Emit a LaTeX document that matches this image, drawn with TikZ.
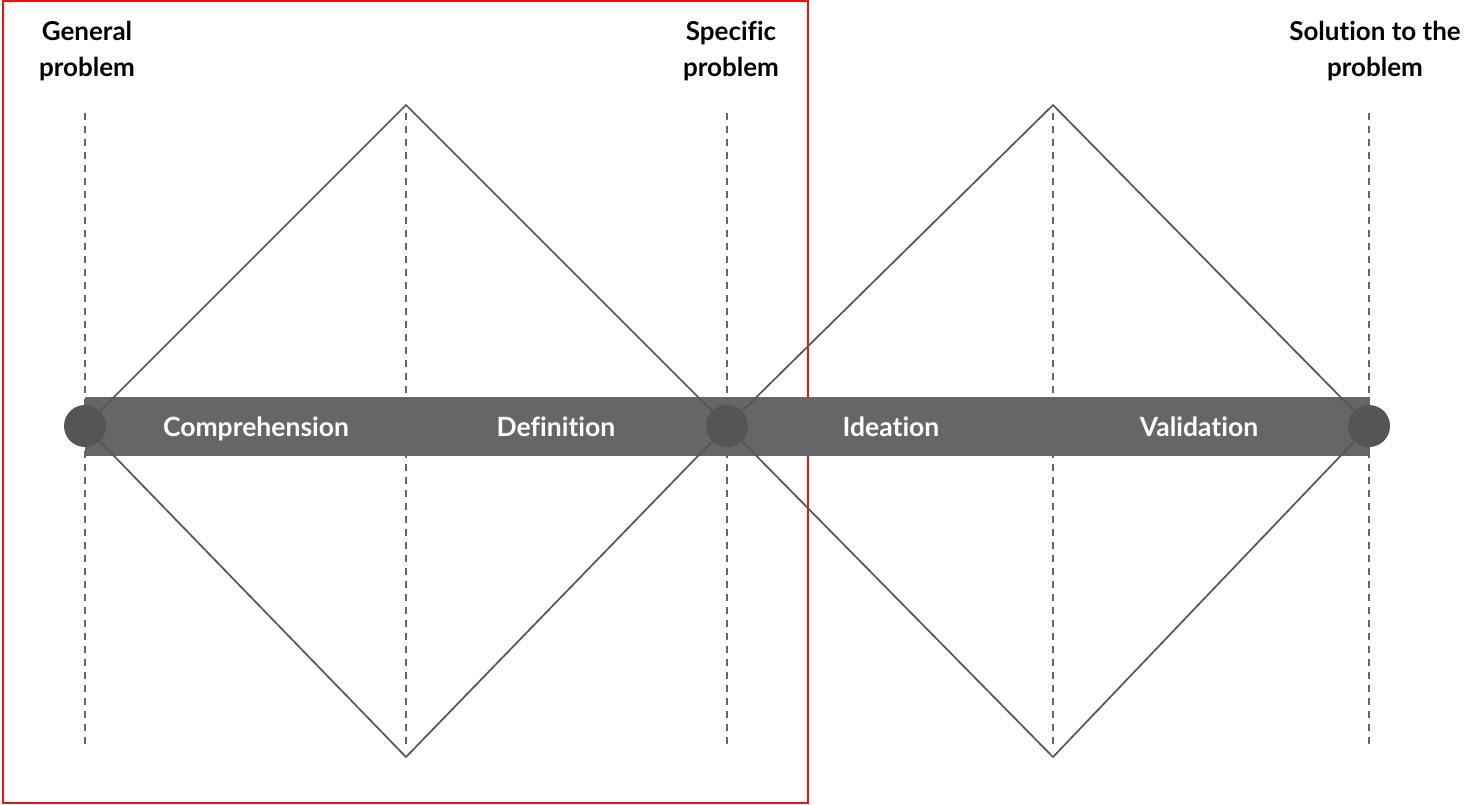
\documentclass[tikz,border=0pt]{standalone}
\usepackage{fontspec}
\setmainfont{Lato}[Ligatures={NoCommon}]
\usepackage{tikz}
\usetikzlibrary{positioning,calc}
\definecolor{bar}{HTML}{666666}
\definecolor{dot}{HTML}{555555}
\definecolor{edge}{HTML}{555555}
\definecolor{frame}{HTML}{F01010}

\begin{document}
\begin{tikzpicture}[x=1pt,y=-1pt,font=\fontsize{26}{36}\selectfont\bfseries,
  phase/.style={text=white,anchor=base,font=\fontsize{26.5}{30}\selectfont\bfseries},
  stage/.style={align=center,anchor=north,inner sep=0pt}]
\useasboundingbox (0,0) rectangle (1464,804);
% red frame round the first diamond
\draw[frame,line width=1.8pt] (3,1) rectangle (808,803);
% corner points of the two diamonds
\coordinate (gen) at (85,426);
\coordinate (spec) at (727,426);
\coordinate (sol) at (1369,426);
\coordinate (top1) at (406,105);
\coordinate (bot1) at (406,757);
\coordinate (top2) at (1053,105);
\coordinate (bot2) at (1053,757);
\draw[bar,fill=bar] (85,397) rectangle (1369,455);
\foreach \x in {85,406,727,1053,1369} {\draw[bar,line width=1.4pt,dash pattern=on 7pt off 6pt] (\x,113)--(\x,746);}
\draw[edge,line width=1.7pt] (gen)--(top1)--(spec)--(bot1)--cycle;
\draw[edge,line width=1.7pt] (spec)--(top2)--(sol)--(bot2)--cycle;
\foreach \p in {gen,spec,sol} {\fill[dot] (\p) circle (21);}
\node[phase] (comp) at (256,436) {Comprehension};
\node[phase] (defi) at (556,436) {Definition};
\node[phase] (idea) at (891,436) {Ideation};
\node[phase] (vali) at (1199,436) {Validation};
\node[stage] (lgen) at (87,21) {General\\problem};
\node[stage] (lspec) at (731,21) {Specific\\problem};
\node[stage] (lsol) at (1375,21) {Solution to the\\problem};
\end{tikzpicture}
\end{document}
